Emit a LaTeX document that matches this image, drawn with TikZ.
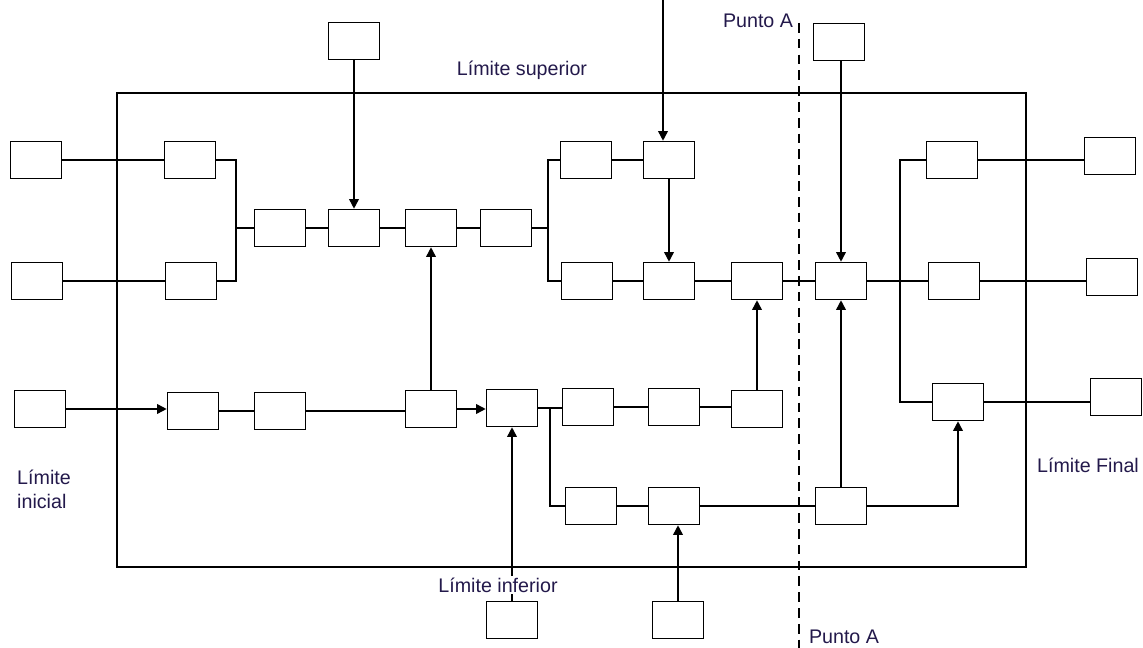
\documentclass[tikz,border=0pt]{standalone}
\usepackage{fontspec}
\setmainfont{Liberation Sans}
\usetikzlibrary{arrows.meta}

\begin{document}
\begin{tikzpicture}[x=0.02cm,y=-0.02cm,line width=0.9pt,
  >={Triangle[length=5.5pt,width=5.5pt]},
  blk/.style={draw,line width=0.9pt,minimum width=1.02cm,minimum height=0.74cm,inner sep=0pt},
  lbl/.style={text={rgb,255:red,35;green,25;blue,75},inner sep=1pt},
  every node/.append style={font=\fontsize{11.2}{13.6}\selectfont}]
  \useasboundingbox (0,0) rectangle (1143,648);

  % limites
  \draw (117,93) rectangle (1026,567);
  \draw[dash pattern=on 5.5pt off 3.5pt] (799,23) -- (799,648);
  \node[lbl] (sup) at (522,70) {Límite superior};
  \node[lbl,align=left] (ini) at (44,489) {Límite\\ inicial};
  \node[lbl] (fin) at (1088,465) {Límite Final};
  \node[lbl] (ptoA) at (758,21) {Punto A};
  \node[lbl] (ptoB) at (844,637) {Punto A};

  % bloques de entrada y salida
  \node[blk] (in1) at (36,160) {};
  \node[blk] (in2) at (37,281) {};
  \node[blk] (in3) at (40,409) {};
  \node[blk] (top1) at (354,41) {};
  \node[blk] (top2) at (839,42) {};
  \node[blk] (bot1) at (512,620) {};
  \node[blk] (bot2) at (678,620) {};
  \node[blk] (out1) at (1110,156) {};
  \node[blk] (out2) at (1112,277) {};
  \node[blk] (out3) at (1116,397) {};

  % bloques internos
  \node[blk] (a1) at (190,160) {};
  \node[blk] (a2) at (191,281) {};
  \node[blk] (b1) at (280,228) {};
  \node[blk] (c1) at (354,228) {};
  \node[blk] (d1) at (431,228) {};
  \node[blk] (e1) at (506,228) {};
  \node[blk] (f1) at (586,160) {};
  \node[blk] (g1) at (669,160) {};
  \node[blk] (h1) at (587,281) {};
  \node[blk] (i1) at (669,281) {};
  \node[blk] (j1) at (757,281) {};
  \node[blk] (k1) at (841,281) {};
  \node[blk] (m1) at (952,160) {};
  \node[blk] (m2) at (954,281) {};
  \node[blk] (n1) at (958,402) {};
  \node[blk] (b2) at (193,411) {};
  \node[blk] (c2) at (280,411) {};
  \node[blk] (d2) at (431,409) {};
  \node[blk] (e2) at (512,408) {};
  \node[blk] (f2) at (588,407) {};
  \node[blk] (g2) at (674,407) {};
  \node[blk] (h2) at (757,409) {};
  \node[blk] (i2) at (591,506) {};
  \node[blk] (j2) at (674,506) {};
  \node[blk] (p1) at (841,506) {};

  \coordinate (jA) at (236,228);
  \coordinate (jB) at (548,228);
  \coordinate (jC) at (900,300);
  \coordinate (jD) at (550,408);
  \coordinate (src) at (663,0);

  % conexiones
  \draw (in1) -- (a1);
  \draw (in2) -- (a2);
  \draw (a1.east) -| (jA) |- (a2.east);
  \draw (jA) -- (b1) -- (c1) -- (d1) -- (e1) -- (jB);
  \draw (f1.west) -| (jB) |- (h1.west);
  \draw (f1) -- (g1);
  \draw (h1) -- (i1) -- (j1) -- (k1) -- (m2);
  \draw (m2.east) -- (m2.east -| out2.west);
  \draw (m1.east) -- (m1.east -| out1.west);
  \draw (m1.west) -| (jC) |- (n1.west);
  \draw (n1.east) -- (n1.east -| out3.west);
  \draw (b2) -- (c2);
  \draw (c2.east) -- (c2.east -| d2.west);
  \draw (e2.east) -- (e2.east -| f2.west);
  \draw (f2) -- (g2);
  \draw (g2.east) -- (g2.east -| h2.west);
  \draw (jD) |- (i2.west);
  \draw (i2) -- (j2) -- (p1);

  % flechas
  \draw[->] (top1) -- (c1);
  \draw[->] (in3.east) -- (in3.east -| b2.west);
  \draw[->] (d2) -- (d1);
  \draw[->] (d2.east) -- (d2.east -| e2.west);
  \draw[->] (bot1) -- (e2);
  \draw[->] (src) -- (src |- g1.north);
  \draw[->] (g1) -- (i1);
  \draw[->] (h2) -- (j1);
  \draw[->] (top2.south -| k1) -- (k1);
  \draw[->] (p1) -- (k1);
  \draw[->] (p1.east) -| (n1.south);
  \draw[->] (bot2.north) -- (bot2.north |- j2.south);

  \node[lbl,fill=white] (inf) at (498,585) {Límite inferior};
\end{tikzpicture}
\end{document}
